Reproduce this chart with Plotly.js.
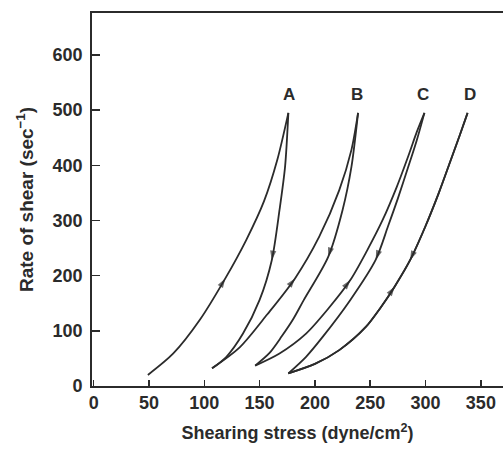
<!DOCTYPE html>
<html>
<head>
<meta charset="utf-8">
<script src="https://cdn.plot.ly/plotly-3.0.1.min.js"></script>
<style>
  html, body { margin: 0; padding: 0; background: #ffffff; }
  #chart { width: 503px; height: 451px; }
</style>
</head>
<body>
<div id="chart"></div>
<script>
// ---- Data (shearing stress, rate of shear) ----
const curveNames = ["A", "B", "C", "D"];

// A: up curve and down curve
const aUpX = [49, 72, 96, 119, 138, 154, 166, 176];
const aUpY = [20, 59, 120, 195, 265, 335, 410, 495];
const aUpArrow = 3;
const aDownX = [176, 173, 168, 161, 150, 135, 120, 107];
const aDownY = [495, 397, 319, 228, 156, 95, 53, 32];
const aDownArrow = 3;

// B
const bUpX = [107, 132, 157, 182, 204, 222, 233, 239];
const bUpY = [32, 70, 130, 195, 271, 355, 428, 495];
const bUpArrow = 3;
const bDownX = [239, 233, 225, 212, 190, 180, 170, 159, 146];
const bDownY = [495, 397, 319, 234, 156, 120, 90, 60, 37];
const bDownArrow = 3;

// C
const cUpX = [146, 168, 192, 212, 232, 247, 261, 274, 285, 292, 299];
const cUpY = [37, 59, 95, 140, 192, 245, 300, 361, 420, 460, 495];
const cUpArrow = 4;
const cDownX = [299, 292, 284, 275, 266, 255, 232, 207, 192, 176];
const cDownY = [495, 445, 395, 340, 289, 229, 156, 89, 53, 23];
const cDownArrow = 5;

// D: single curve traversed up and down
const dX = [176, 200, 222, 246, 259, 272, 286, 300, 312, 322, 331, 338];
const dY = [23, 40, 65, 107, 141, 180, 228, 290, 350, 405, 455, 495];
const dUpArrow = 5;
const dDownArrowFromTop = 5; // index of (286,228) in reversed order

// curve labels above the peaks
const labelX = [177, 238, 298, 340];
const labelY = [528, 528, 528, 528];

const xTicks = [0, 50, 100, 150, 200, 250, 300, 350];
const yTicks = [0, 100, 200, 300, 400, 500, 600];

// ---- Build traces ----
const ink = "#2b2b2b";
function curve(xs, ys, arrowIdx) {
  const sizes = xs.map((_, i) => (i === arrowIdx ? 10 : 0));
  return {
    type: "scatter",
    mode: "lines+markers",
    x: xs, y: ys,
    line: { color: ink, width: 1.8, shape: "spline", smoothing: 0.8 },
    marker: { symbol: "arrow", size: sizes, color: ink, angleref: "previous", line: { width: 0 } },
    hoverinfo: "skip",
    showlegend: false
  };
}
const rev = a => a.slice().reverse();

const traces = [
  curve(aUpX, aUpY, aUpArrow),
  curve(aDownX, aDownY, aDownArrow),
  curve(bUpX, bUpY, bUpArrow),
  curve(bDownX, bDownY, bDownArrow),
  curve(cUpX, cUpY, cUpArrow),
  curve(cDownX, cDownY, cDownArrow),
  curve(dX, dY, dUpArrow),
  curve(rev(dX), rev(dY), dDownArrowFromTop)
];

const font = "'Liberation Sans', Arial, Helvetica, sans-serif";
const annotations = curveNames.map((n, i) => ({
  x: labelX[i], y: labelY[i], text: "<b>" + n + "</b>",
  showarrow: false, xanchor: "center", yanchor: "middle",
  font: { family: font, size: 17, color: ink }
}));

const layout = {
  width: 503, height: 451,
  margin: { l: 92, r: 0, t: 13, b: 65 },
  paper_bgcolor: "#ffffff",
  plot_bgcolor: "#ffffff",
  showlegend: false,
  font: { family: font, color: ink },
  xaxis: {
    range: [-1.5, 370],
    tickvals: xTicks,
    ticktext: xTicks.map(String),
    ticks: "inside", ticklen: 6, tickwidth: 1.5, tickcolor: ink,
    showline: true, linecolor: ink, linewidth: 1.8, mirror: true,
    showgrid: false, zeroline: false,
    tickfont: { family: font, size: 18, color: ink, weight: "bold" },
    ticklabelstandoff: 0,
    automargin: false,
    title: { text: "<b>Shearing stress (dyne/cm<sup>2</sup>)</b>", standoff: 14,
             font: { family: font, size: 18, color: ink } }
  },
  yaxis: {
    range: [0, 676],
    tickvals: yTicks,
    ticktext: yTicks.map(String),
    ticks: "inside", ticklen: 8, tickwidth: 1.5, tickcolor: ink,
    showline: true, linecolor: ink, linewidth: 1.8, mirror: false,
    showgrid: false, zeroline: false,
    tickfont: { family: font, size: 18, color: ink, weight: "bold" },
    ticklabelstandoff: 4,
    automargin: false,
    title: { text: "<b>Rate of shear (sec<sup>−1</sup>)</b>", standoff: 14,
             font: { family: font, size: 19, color: ink } }
  },
  annotations: annotations
};

Plotly.newPlot("chart", traces, layout, { displayModeBar: false, staticPlot: true });
</script>
</body>
</html>
